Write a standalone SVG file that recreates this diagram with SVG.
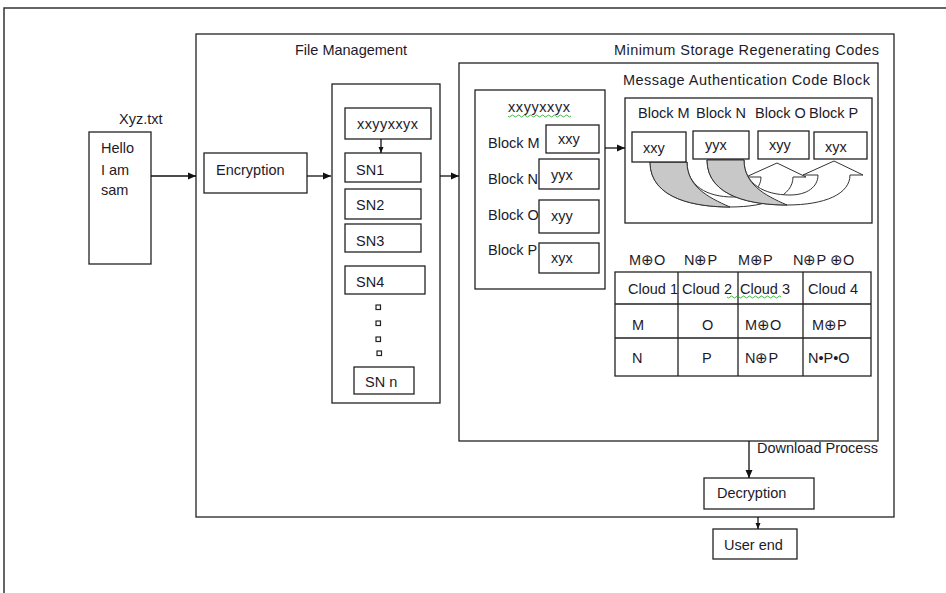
<svg xmlns="http://www.w3.org/2000/svg" width="946" height="593" viewBox="0 0 946 593">
<defs>
<marker id="ah" markerWidth="8" markerHeight="8" refX="8" refY="4" orient="auto" markerUnits="userSpaceOnUse">
<path d="M0,0.5 L8,4 L0,7.5 Z" fill="#111"/>
</marker>
<marker id="ahs" markerWidth="6" markerHeight="6" refX="6" refY="3" orient="auto" markerUnits="userSpaceOnUse">
<path d="M0,0.5 L6,3 L0,5.5 Z" fill="#111"/>
</marker>
</defs>
<style>
.b{fill:#fff;stroke:#222;stroke-width:1.3}
.bn{fill:none;stroke:#222;stroke-width:1.3}
.t{font-family:"Liberation Sans",Arial,sans-serif;font-size:14.5px;fill:#1d1a2a}
.c{stroke:#111;stroke-width:1.3;fill:none}
.w{fill:none;stroke:#3a3;stroke-width:0.9}
.dot{fill:#fff;stroke:#222;stroke-width:1.2}
.ca{fill:#fff;stroke:#333;stroke-width:1}
.cg{fill:#c8c8c8;stroke:#333;stroke-width:1}
</style>
<rect width="946" height="593" fill="#fff"/>
<g id="page">
<path d="M4,593 V8 H946" fill="none" stroke="#333" stroke-width="1.5"/>
</g>
<g id="file-management">
<rect class="b" x="196" y="34" width="698" height="483"/>
<text class="t" x="295" y="55">File Management</text>
</g>
<g id="msr">
<rect class="b" x="459" y="63" width="419" height="378"/>
<text class="t" x="614" y="55" textLength="265">Minimum Storage Regenerating Codes</text>
</g>
<g id="mac-label">
<text class="t" x="623" y="85" textLength="247">Message Authentication Code Block</text>
</g>
<g id="xyz">
<text class="t" x="119" y="124">Xyz.txt</text>
<rect class="b" x="89" y="132" width="62" height="132"/>
<text class="t" x="101" y="153">Hello</text>
<text class="t" x="101" y="175">I am</text>
<text class="t" x="101" y="195">sam</text>
</g>
<g id="encryption">
<rect class="b" x="204" y="153" width="103" height="40"/>
<text class="t" x="216" y="175">Encryption</text>
</g>
<g id="storage">
<rect class="b" x="332" y="84" width="108" height="319"/>
</g>
<g id="xxyyxxyx-box">
<rect class="b" x="345" y="108" width="86" height="31"/>
<text class="t" x="357" y="129" textLength="61">xxyyxxyx</text>
</g>
<g id="sn1"><rect class="b" x="345" y="153" width="76" height="29"/><text class="t" x="356" y="175">SN1</text></g>
<g id="sn2"><rect class="b" x="345" y="189" width="76" height="30"/><text class="t" x="356" y="210">SN2</text></g>
<g id="sn3"><rect class="b" x="345" y="224" width="76" height="28"/><text class="t" x="356" y="246">SN3</text></g>
<g id="sn4"><rect class="b" x="345" y="266" width="80" height="28"/><text class="t" x="356" y="287">SN4</text></g>
<g id="dots">
<rect class="dot" x="376" y="305" width="4.5" height="4.5"/>
<rect class="dot" x="376" y="321" width="4.5" height="4.5"/>
<rect class="dot" x="376" y="337" width="4.5" height="4.5"/>
<rect class="dot" x="377" y="351" width="4.5" height="4.5"/>
</g>
<g id="snn"><rect class="b" x="354" y="367" width="60" height="27"/><text class="t" x="365" y="387">SN n</text></g>
<g id="blocks">
<rect class="b" x="475" y="90" width="130" height="199"/>
<text class="t" x="508" y="112" textLength="62">xxyyxxyx</text>
<path class="w" d="M508,116 q1.5,2 3,0 t3,0 t3,0 t3,0 t3,0 t3,0 t3,0 t3,0 t3,0 t3,0 t3,0 t3,0 t3,0 t3,0 t3,0 t3,0 t3,0 t3,0 t3,0 t3,0 t3,0"/>
<text class="t" x="488" y="148">Block M</text>
<text class="t" x="488" y="184">Block N</text>
<text class="t" x="488" y="220">Block O</text>
<text class="t" x="488" y="255">Block P</text>
</g>
<g id="blk-m"><rect class="b" x="546" y="125" width="53" height="28"/><text class="t" x="558" y="144">xxy</text></g>
<g id="blk-n"><rect class="b" x="539" y="159" width="60" height="30"/><text class="t" x="551" y="180">yyx</text></g>
<g id="blk-o"><rect class="b" x="539" y="200" width="60" height="33"/><text class="t" x="551" y="221">xyy</text></g>
<g id="blk-p"><rect class="b" x="539" y="243" width="60" height="30"/><text class="t" x="551" y="263">xyx</text></g>
<g id="mac">
<rect class="b" x="625" y="98" width="247" height="125"/>
<text class="t" x="638" y="118">Block M</text>
<text class="t" x="696" y="118">Block N</text>
<text class="t" x="755" y="118">Block O</text>
<text class="t" x="809" y="118">Block P</text>
</g>
<g id="curved-arrows">
<g id="curve1">
<path class="ca" d="M650,162 C650,200 698,207 730,207 C768,207 793,196 793,177 L806,177 L777,163 L746,177 L761,177 C761,189 750,197 733,197 C707,197 687,186 687,162 Z"/>
<path class="cg" d="M650,162 C650,200 698,207 730,207 C707,197 687,186 687,162 Z"/>
</g>
<g id="curve2" transform="translate(57,-2)">
<path class="ca" d="M650,162 C650,200 698,207 730,207 C768,207 793,196 793,177 L806,177 L777,163 L746,177 L761,177 C761,189 750,197 733,197 C707,197 687,186 687,162 Z"/>
<path class="cg" d="M650,162 C650,200 698,207 730,207 C707,197 687,186 687,162 Z"/>
</g>
</g>
<g id="mac-m"><rect class="b" x="632" y="132" width="54" height="30"/><text class="t" x="643" y="153">xxy</text></g>
<g id="mac-n"><rect class="b" x="693" y="131" width="56" height="28"/><text class="t" x="705" y="150">yyx</text></g>
<g id="mac-o"><rect class="b" x="758" y="131" width="51" height="28"/><text class="t" x="769" y="150">xyy</text></g>
<g id="mac-p"><rect class="b" x="814" y="132" width="53" height="27"/><text class="t" x="825" y="152">xyx</text></g>
<g id="cloud-table">
<text class="t" x="629" y="265">M⊕O</text>
<text class="t" x="684" y="265">N⊕P</text>
<text class="t" x="738" y="265">M⊕P</text>
<text class="t" x="793" y="265">N⊕P ⊕O</text>
<rect class="b" x="615" y="272" width="256" height="104"/>
<path class="bn" d="M615,304 H871 M615,338 H871 M678,272 V376 M738,272 V376 M803,272 V376"/>
<text class="t" x="628" y="294">Cloud 1</text>
<text class="t" x="682" y="294">Cloud 2</text>
<text class="t" x="740" y="294">Cloud 3</text>
<path class="w" d="M727,297 q1.5,2 3,0 t3,0 t3,0 t3,0 t3,0 t3,0 t3,0 t3,0 t3,0 t3,0 t3,0 t3,0 t3,0 t3,0 t3,0 t3,0 t3,0 t3,0"/>
<text class="t" x="808" y="294">Cloud 4</text>
<text class="t" x="632" y="330">M</text>
<text class="t" x="702" y="330">O</text>
<text class="t" x="745" y="330">M⊕O</text>
<text class="t" x="812" y="330">M⊕P</text>
<text class="t" x="632" y="363">N</text>
<text class="t" x="702" y="363">P</text>
<text class="t" x="745" y="363">N⊕P</text>
<text class="t" x="808" y="363">N•P•O</text>
</g>
<g id="decryption">
<rect class="b" x="704" y="478" width="110" height="31"/>
<text class="t" x="717" y="498">Decryption</text>
</g>
<g id="user-end">
<rect class="b" x="713" y="529" width="84" height="30"/>
<text class="t" x="724" y="550">User end</text>
</g>
<g id="connectors">
<line class="c" x1="151" y1="176" x2="196" y2="176" marker-end="url(#ah)"/>
<line class="c" x1="307" y1="176" x2="331" y2="176" marker-end="url(#ah)"/>
<line class="c" x1="381" y1="139" x2="381" y2="153" marker-end="url(#ahs)"/>
<line class="c" x1="440" y1="176" x2="459" y2="176" marker-end="url(#ah)"/>
<line class="c" x1="605" y1="148" x2="625" y2="148" marker-end="url(#ah)"/>
<line class="c" x1="749" y1="441" x2="749" y2="478" marker-end="url(#ah)"/>
<line class="c" x1="758" y1="517" x2="758" y2="529" marker-end="url(#ahs)"/>
</g>
<g id="download-label">
<text class="t" x="757" y="453">Download Process</text>
</g>
</svg>
